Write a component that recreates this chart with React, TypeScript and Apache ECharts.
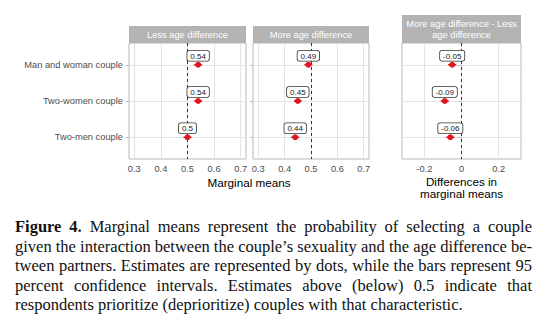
import React, { useEffect, useRef } from "react";
import * as echarts from "echarts";

const categories = ["Man and woman couple", "Two-women couple", "Two-men couple"];
const panelTitles = ["Less age difference", "More age difference", "More age difference - Less\nage difference"];
const lessAge = [0.54, 0.54, 0.5];
const lessLow = [0.525, 0.525, 0.485];
const lessHigh = [0.555, 0.555, 0.515];
const moreAge = [0.49, 0.45, 0.44];
const moreLow = [0.475, 0.435, 0.425];
const moreHigh = [0.505, 0.465, 0.455];
const diff = [-0.05, -0.09, -0.06];
const diffLow = [-0.072, -0.112, -0.082];
const diffHigh = [-0.028, -0.068, -0.038];
const mmTicks = [0.3, 0.4, 0.5, 0.6, 0.7];
const diffTicks = [-0.2, 0, 0.2];
const mmRef = 0.5;
const diffRef = 0;

const RED = "#e3141e";
const GRID = "#e3e3e3";
const BORDER = "#b8b8b8";
const AXTXT = "#4d4d4d";
const FONT = "'Liberation Sans', Arial, sans-serif";

function fmt(v: number) {
  return String(Math.round(v * 100) / 100);
}

export default function App() {
  const ref = useRef<HTMLDivElement>(null);
  useEffect(() => {
    if (!ref.current) return;
    const chart = echarts.init(ref.current, undefined, { renderer: "svg" });
    const grids = [
      { left: 129, top: 43, width: 117, height: 116 },
      { left: 253, top: 43, width: 116, height: 116 },
      { left: 402, top: 43, width: 119, height: 116 },
    ].map((g) => ({ ...g, show: true, borderColor: BORDER, borderWidth: 1, backgroundColor: "transparent" }));

    const xAxis = [0, 1, 2].map((i) => {
      const ticks = i < 2 ? mmTicks : diffTicks;
      return {
        type: "value",
        gridIndex: i,
        min: i < 2 ? 0.28 : -0.32,
        max: i < 2 ? 0.72 : 0.32,
        axisLine: { show: false },
        axisTick: { show: false, customValues: ticks },
        axisLabel: { show: true, customValues: ticks, fontSize: 9.3, color: AXTXT, fontFamily: FONT, margin: 5, formatter: (v: number) => fmt(v) },
        splitLine: { show: true, lineStyle: { color: GRID, width: 1 } },
      };
    });
    const yAxis = [0, 1, 2].map((i) => ({
      type: "value",
      gridIndex: i,
      min: -0.6,
      max: 2.6,
      inverse: true,
      axisLine: { show: false },
      axisTick: { show: true, length: 3, lineStyle: { color: BORDER }, customValues: [0, 1, 2] },
      axisLabel: {
        show: i === 0,
        customValues: [0, 1, 2],
        fontSize: 9.3,
        color: AXTXT,
        fontFamily: FONT,
        margin: 6,
        formatter: (v: number) => categories[Math.round(v)] ?? "",
      },
      splitLine: { show: true, lineStyle: { color: GRID, width: 1 } },
    }));

    const sets = [
      { est: lessAge, lo: lessLow, hi: lessHigh, ref: mmRef },
      { est: moreAge, lo: moreLow, hi: moreHigh, ref: mmRef },
      { est: diff, lo: diffLow, hi: diffHigh, ref: diffRef },
    ];
    const series: any[] = [];
    sets.forEach((s, i) => {
      series.push({
        type: "line",
        xAxisIndex: i,
        yAxisIndex: i,
        data: [],
        z: 1,
        markLine: {
          silent: true,
          symbol: "none",
          label: { show: false },
          lineStyle: { color: "#333333", type: [3, 3], width: 1 },
          data: [{ xAxis: s.ref }],
        },
      });
      series.push({
        type: "custom",
        xAxisIndex: i,
        yAxisIndex: i,
        data: s.est.map((_, k) => [s.lo[k], s.hi[k], k]),
        encode: { x: [0, 1], y: 2 },
        renderItem: (params: any, api: any) => {
          const a = api.coord([api.value(0), api.value(2)]);
          const b = api.coord([api.value(1), api.value(2)]);
          return { type: "line", shape: { x1: a[0], y1: a[1], x2: b[0], y2: b[1] }, style: { stroke: RED, lineWidth: 1.5 } };
        },
        z: 3,
      });
      series.push({
        type: "scatter",
        xAxisIndex: i,
        yAxisIndex: i,
        data: s.est.map((v, k) => [v, k]),
        symbolSize: 6,
        itemStyle: { color: RED, opacity: 1 },
        z: 5,
        label: {
          show: true,
          position: "top",
          distance: 1,
          formatter: (p: any) => fmt(p.value[0]),
          fontSize: 8,
          fontFamily: FONT,
          color: "#1a1a1a",
          backgroundColor: "#ffffff",
          borderColor: "#333333",
          borderWidth: 0.8,
          borderRadius: 2,
          padding: [1, 3, 0, 3],
          lineHeight: 9,
        },
      });
    });

    const strips = [
      { x: 129, y: 26, w: 117, h: 17 },
      { x: 253, y: 26, w: 116, h: 17 },
      { x: 402, y: 15, w: 119, h: 28 },
    ];
    const graphic: any[] = [];
    strips.forEach((s, i) => {
      graphic.push({ type: "rect", shape: { x: s.x, y: s.y, width: s.w, height: s.h }, style: { fill: "#b3b3b3" } });
      graphic.push({
        type: "text",
        x: s.x + s.w / 2,
        y: s.y + s.h / 2 + 0.5,
        style: { text: panelTitles[i], fill: "#ffffff", fontSize: 9.3, fontFamily: FONT, align: "center", verticalAlign: "middle", lineHeight: 10.5 },
      });
    });
    graphic.push({
      type: "text",
      x: 249,
      y: 182,
      style: { text: "Marginal means", fill: "#000000", fontSize: 11.7, fontFamily: FONT, align: "center", verticalAlign: "middle" },
    });
    graphic.push({
      type: "text",
      x: 461.5,
      y: 187.5,
      style: { text: "Differences in\nmarginal means", fill: "#000000", fontSize: 11.7, fontFamily: FONT, align: "center", verticalAlign: "middle", lineHeight: 11.6 },
    });

    chart.setOption({
      animation: false,
      backgroundColor: "#ffffff",
      grid: grids,
      xAxis,
      yAxis,
      series,
      graphic,
    });
    return () => chart.dispose();
  }, []);

  const lines = [
    [<b key="b">Figure 4.</b>, " Marginal means represent the probability of selecting a couple"],
    ["given the interaction between the couple\u2019s sexuality and the age difference be-"],
    ["tween partners. Estimates are represented by dots, while the bars represent 95"],
    ["percent confidence intervals. Estimates above (below) 0.5 indicate that"],
    ["respondents prioritize (deprioritize) couples with that characteristic."],
  ];

  return (
    <div style={{ position: "fixed", left: 0, top: 0, width: 543, height: 324, background: "#ffffff", overflow: "hidden" }}>
      <div ref={ref} style={{ position: "absolute", left: 0, top: 0, width: 543, height: 205 }} />
      <div
        style={{
          position: "absolute",
          left: 15,
          top: 217,
          width: 517,
          fontFamily: "'Liberation Serif', 'Times New Roman', serif",
          fontSize: 16.5,
          lineHeight: "19.6px",
          color: "#111111",
        }}
      >
        {lines.map((l, i) => (
          <div key={i} style={{ textAlign: i < 4 ? "justify" : "left", textAlignLast: i < 4 ? "justify" : "left", whiteSpace: "nowrap" }}>
            {l}
          </div>
        ))}
      </div>
    </div>
  );
}
